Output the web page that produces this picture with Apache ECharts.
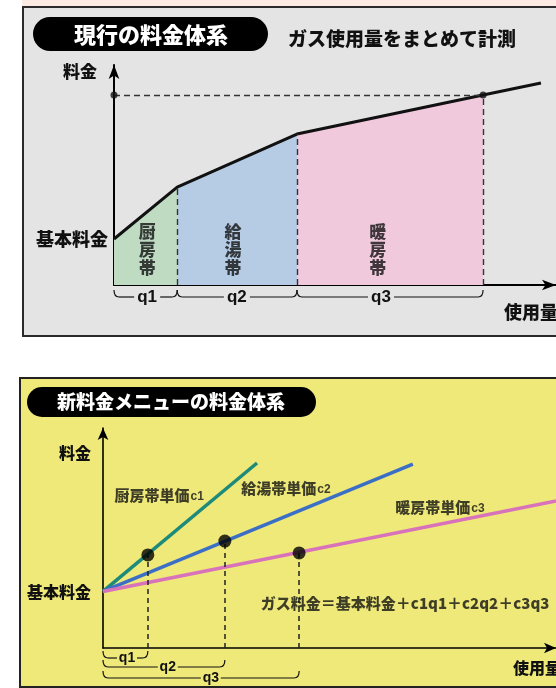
<!DOCTYPE html>
<html><head><meta charset="utf-8">
<script src="https://cdn.jsdelivr.net/npm/echarts@6/dist/echarts.min.js"></script>
<style>html,body{margin:0;padding:0;background:#fff}#c{width:556px;height:688px}</style>
</head><body><div id="c"></div>
<script>
const JP = '"Noto Sans CJK JP", "Noto Sans CJK SC", sans-serif';
const LAT = '"Liberation Sans", Roboto, sans-serif';
const W = 900;

// ---- 現行の料金体系 (top panel) ----
const curUsage  = [0, 14.3, 41.4, 83.5, 96.6];
const curCharge = [20.9, 44.5, 68.6, 86.4, 91.8];
const curBands = ['厨房帯', '給湯帯', '暖房帯'];
const curBandLabelX = [7.5, 26.9, 59.7];
const curBandLabelY = [15.9, 15.9, 15.9];
const curRangeNames = ['q1', 'q2', 'q3'];
const curRangeLabelX = [7.5, 27.8, 60.4];
const baseLabel = '基本料金';

// ---- 新料金メニューの料金体系 (bottom panel) ----
const newBands = ['厨房帯単価', '給湯帯単価', '暖房帯単価'];
const newRateNames = ['c1', 'c2', 'c3'];
const newBase = 25.7;
const newLineEndX = [34.0, 68.4, 100];
const newLineEndY = [84.1, 83.6, 66.8];
const newPointX = [9.9, 26.9, 43.3];
const newPointY = [42.3, 48.6, 43.2];
const newRateLabelX = [12.4, 40.4, 74.4];
const newRateLabelY = [69.5, 72.7, 64.1];
const newRangeNames = ['q1', 'q2', 'q3'];
const newRangeLabelX = [5.3, 14.3, 23.8];
const formula = 'ガス料金＝基本料金＋c1q1＋c2q2＋c3q3';
const formulaPos = [66.7, 20.5];

const bandColors = ['#bfdcc3', '#b6cce5', '#f0c9dc'];
const lineColors = ['#1e8a7a', '#3b6fc6', '#d872bb'];

const chart = echarts.init(document.getElementById('c'), null, {renderer: 'canvas'});

function axisPair(gi, baseVal, labelFont, labelMargin, labelPad, symSize) {
  const line = {show: true, lineStyle: {color: '#000', width: gi === 0 ? 2 : 1.6}, symbol: ['none', 'arrow'], symbolSize: symSize};
  return {
    x: {type: 'value', gridIndex: gi, min: 0, max: 100, axisLine: line, axisTick: {show: false}, axisLabel: {show: false}, splitLine: {show: false}},
    y: {type: 'value', gridIndex: gi, min: 0, max: 100, axisLine: line, axisTick: {show: false}, splitLine: {show: false},
        axisLabel: {show: true, customValues: [baseVal], formatter: () => baseLabel, fontSize: labelFont, fontWeight: W,
          fontFamily: JP, color: '#111', margin: labelMargin, padding: labelPad}}
  };
}
const a0 = axisPair(0, curCharge[0], 18, 6, [0, 0, 0, 0], [8, 14]);
const a1 = axisPair(1, newBase, 16, 12, [8, 0, 0, 0], [8, 12]);

function braceSeries(gi, ranges, names, labelX, opts) {
  return {
    type: 'custom', xAxisIndex: gi, yAxisIndex: gi, silent: true, clip: false, z: 6,
    data: ranges.map((r, i) => [r[0], r[1], labelX[i], i]),
    renderItem: (params, api) => {
      const x0 = api.value(0), x1 = api.value(1), lx = api.value(2), i = api.value(3);
      const p0 = api.coord([x0, 0]), p1 = api.coord([x1, 0]), pl = api.coord([lx, 0]);
      const y = p0[1] + opts.offsets[i];
      const yTop = y - opts.curl;
      const c = opts.curlW, gap = opts.gap;
      const st = {stroke: '#111', lineWidth: 1.2, fill: null};
      return {type: 'group', children: [
        {type: 'bezierCurve', shape: {x1: p0[0], y1: yTop, x2: p0[0] + c, y2: y, cpx1: p0[0], cpy1: y}, style: st},
        {type: 'line', shape: {x1: p0[0] + c, y1: y, x2: pl[0] - gap, y2: y}, style: st},
        {type: 'line', shape: {x1: pl[0] + gap, y1: y, x2: p1[0] - c, y2: y}, style: st},
        {type: 'bezierCurve', shape: {x1: p1[0] - c, y1: y, x2: p1[0], y2: yTop, cpx1: p1[0], cpy1: y}, style: st},
        {type: 'text', style: {text: names[i], x: pl[0], y: y, align: 'center', verticalAlign: 'middle', font: opts.font, fill: '#111'}}
      ]};
    }
  };
}

const curRanges = [[curUsage[0], curUsage[1]], [curUsage[1], curUsage[2]], [curUsage[2], curUsage[3]]];
const newRanges = newPointX.map(x => [0, x]);

const series = [];
for (let i = 0; i < 3; i++) {
  series.push({type: 'line', xAxisIndex: 0, yAxisIndex: 0, symbol: 'none', silent: true, z: 2,
    lineStyle: {width: 0}, areaStyle: {color: bandColors[i], opacity: 1},
    data: [[curUsage[i], curCharge[i]], [curUsage[i + 1], curCharge[i + 1]]]});
}
series.push({type: 'line', xAxisIndex: 0, yAxisIndex: 0, symbol: 'none', silent: true, z: 4,
  lineStyle: {color: '#111', width: 3},
  data: curUsage.map((x, i) => [x, curCharge[i]]),
  markLine: {silent: true, symbol: ['none', 'none'], label: {show: false},
    lineStyle: {color: '#333', width: 1.4, type: [6, 4]},
    data: [
      [{coord: [curUsage[1], 0]}, {coord: [curUsage[1], curCharge[1]]}],
      [{coord: [curUsage[2], 0]}, {coord: [curUsage[2], curCharge[2]]}],
      [{coord: [curUsage[3], 0]}, {coord: [curUsage[3], curCharge[3]]}],
      [{coord: [0, curCharge[3]]}, {coord: [curUsage[3], curCharge[3]]}]
    ]}});
series.push({type: 'scatter', xAxisIndex: 0, yAxisIndex: 0, silent: true, clip: false, z: 5, symbolSize: 7,
  itemStyle: {color: '#111'}, data: [[0, curCharge[3]], [curUsage[3], curCharge[3]]]});
series.push({type: 'scatter', xAxisIndex: 0, yAxisIndex: 0, silent: true, z: 6, symbolSize: 1,
  itemStyle: {color: 'transparent'},
  data: curBands.map((b, i) => ({name: b, value: [curBandLabelX[i], curBandLabelY[i]]})),
  label: {show: true, position: 'inside', formatter: p => p.name.split('').join('\n'),
    fontSize: 17, fontWeight: W, lineHeight: 18, color: '#111', fontFamily: JP}});
series.push(braceSeries(0, curRanges, curRangeNames, curRangeLabelX,
  {offsets: [12, 12, 12], curl: 7, curlW: 5, gap: 13, font: 'bold 17px ' + LAT}));

for (let i = 0; i < 3; i++) {
  series.push({type: 'line', xAxisIndex: 1, yAxisIndex: 1, symbol: 'none', silent: true, clip: false, z: 3,
    lineStyle: {color: lineColors[i], width: 3.5},
    data: [[0, newBase], [newLineEndX[i], newLineEndY[i]]]});
}
series.push({type: 'scatter', xAxisIndex: 1, yAxisIndex: 1, silent: true, z: 5, symbolSize: 13,
  itemStyle: {color: '#000'}, data: newPointX.map((x, i) => [x, newPointY[i]]),
  markLine: {silent: true, symbol: ['none', 'none'], label: {show: false},
    lineStyle: {color: '#222', width: 1.5, type: [5, 4]},
    data: newPointX.map((x, i) => [{coord: [x, 0]}, {coord: [x, newPointY[i]]}])}});
series.push({type: 'scatter', xAxisIndex: 1, yAxisIndex: 1, silent: true, z: 6, symbolSize: 1,
  itemStyle: {color: 'transparent'},
  data: newBands.map((b, i) => ({name: b, value: [newRateLabelX[i], newRateLabelY[i]]})),
  label: {show: true, position: 'inside',
    formatter: p => '{a|' + newBands[p.dataIndex] + '}{b|' + newRateNames[p.dataIndex] + '}',
    rich: {a: {fontSize: 15, fontWeight: W, fontFamily: JP, color: '#111'},
           b: {fontSize: 12, fontWeight: 'bold', fontFamily: LAT, color: '#111', padding: [3, 0, 0, 1]}}}});
series.push({type: 'scatter', xAxisIndex: 1, yAxisIndex: 1, silent: true, z: 6, symbolSize: 1,
  itemStyle: {color: 'transparent'}, data: [{name: formula, value: formulaPos}],
  label: {show: true, position: 'inside', formatter: p => p.name,
    fontSize: 15, fontWeight: W, fontFamily: JP, color: '#111'}});
series.push(braceSeries(1, newRanges, newRangeNames, newRangeLabelX,
  {offsets: [10, 19, 30], curl: 7, curlW: 5, gap: 10, font: 'bold 14px ' + LAT}));

const txt = (text, x, y, size, align, fill) => ({type: 'text', z: 10, style: {text, x, y, align: align || 'center', verticalAlign: 'middle',
  font: W + ' ' + size + 'px ' + JP, fill: fill || '#111'}});

chart.setOption({
  animation: false,
  backgroundColor: '#fff',
  grid: [
    {left: 114, top: 65, width: 442, height: 220},
    {left: 103, top: 428, width: 453, height: 220}
  ],
  xAxis: [a0.x, a1.x],
  yAxis: [a0.y, a1.y],
  graphic: [
    {type: 'rect', z: -10, shape: {x: 22, y: 0, width: 560, height: 6}, style: {fill: '#fcebe3'}},
    {type: 'rect', z: -10, shape: {x: 23, y: 7, width: 560, height: 329}, style: {fill: '#e4e4e4', stroke: '#2a2a2a', lineWidth: 2}},
    {type: 'rect', z: -9, shape: {x: 33, y: 17, width: 235, height: 34, r: 17}, style: {fill: '#000'}},
    txt('現行の料金体系', 151, 35, 22, 'center', '#fff'),
    txt('ガス使用量をまとめて計測', 288, 39, 19, 'left'),
    txt('料金', 80, 72, 17),
    txt('使用量', 504, 312, 18, 'left'),
    {type: 'rect', z: -10, shape: {x: 20, y: 378, width: 560, height: 309}, style: {fill: '#efe97a', stroke: '#222', lineWidth: 2}},
    {type: 'rect', z: -9, shape: {x: 27, y: 387, width: 289, height: 30, r: 15}, style: {fill: '#000'}},
    txt('新料金メニューの料金体系', 171, 402, 19, 'center', '#fff'),
    txt('料金', 75, 453, 16),
    txt('使用量', 513, 668, 16, 'left')
  ],
  series
});
</script></body></html>
